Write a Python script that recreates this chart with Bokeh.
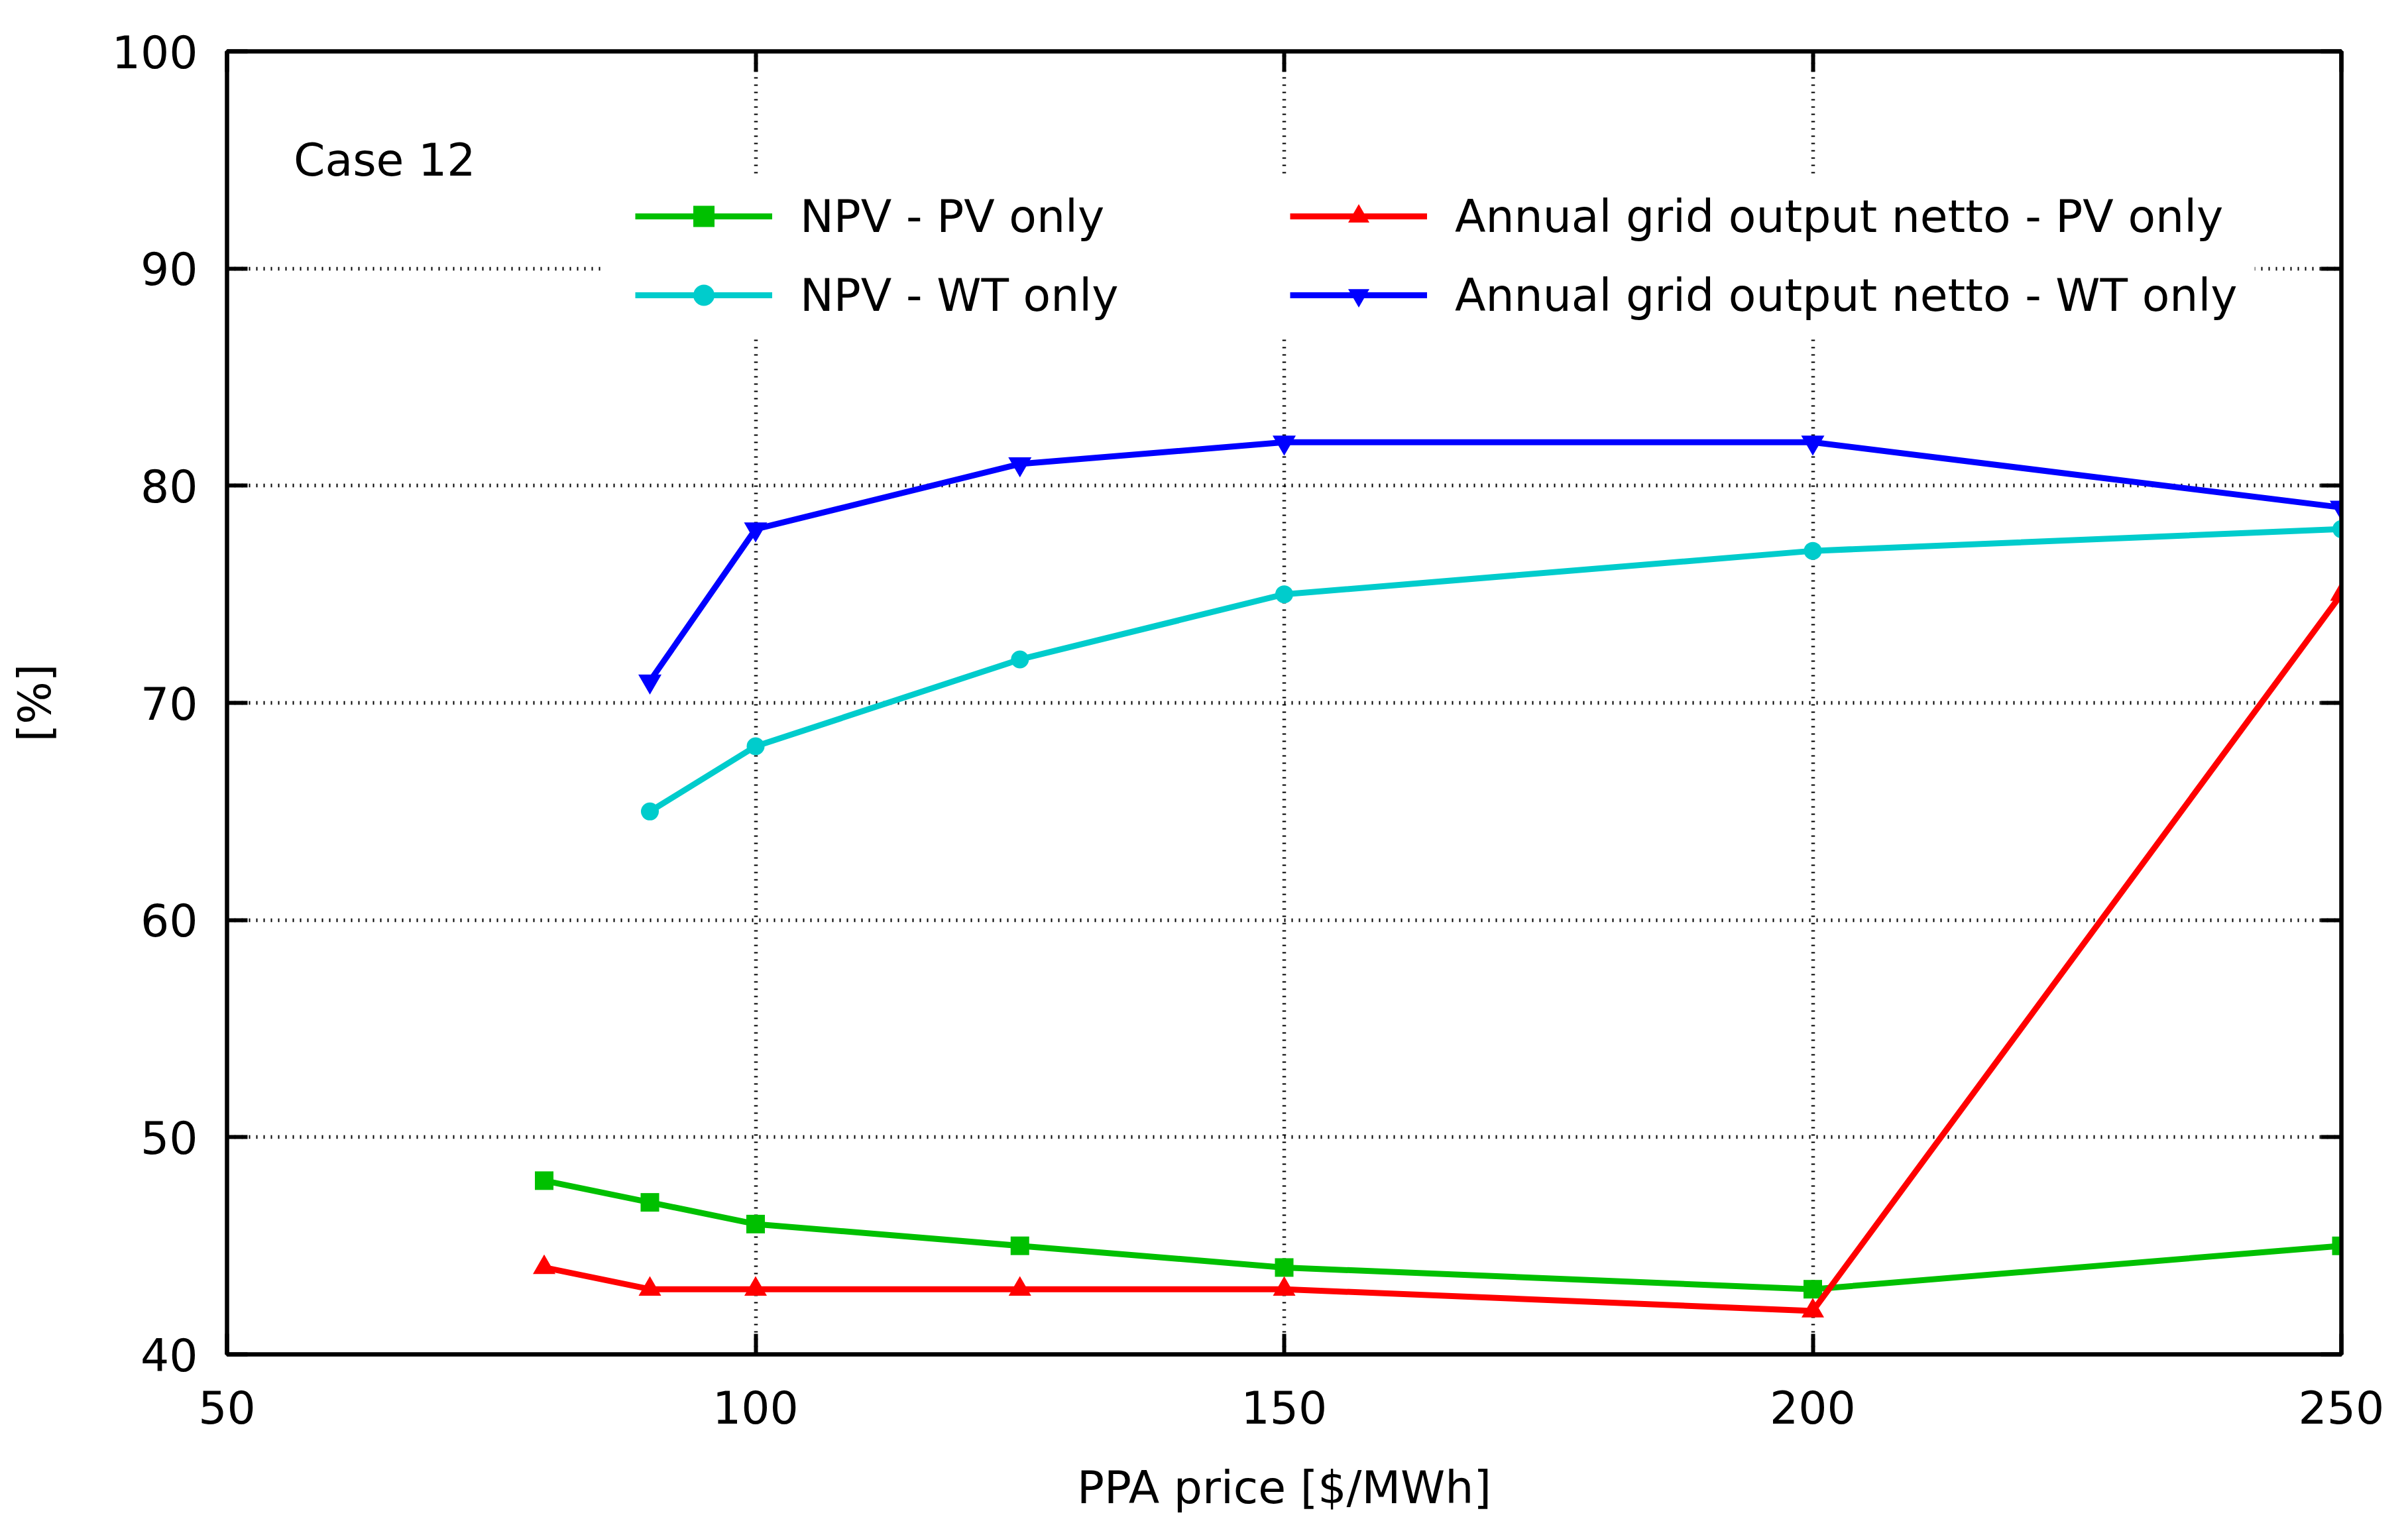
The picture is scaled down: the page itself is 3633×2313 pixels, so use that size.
from bokeh.embed import file_html
from bokeh.models import BoxAnnotation, FixedTicker, Label, Legend, LegendItem, LinearAxis
from bokeh.plotting import figure
from bokeh.resources import INLINE

# PPA price [$/MWh]
PPA_PV = [80, 90, 100, 125, 150, 200, 250]
PPA_WT = [90, 100, 125, 150, 200, 250]

# values in [%]
NPV_PV = [48, 47, 46, 45, 44, 43, 45]
NPV_WT = [65, 68, 72, 75, 77, 78]
GRID_PV = [44, 43, 43, 43, 43, 42, 75]
GRID_WT = [71, 78, 81, 82, 82, 79]

X_TICKS = [50, 100, 150, 200, 250]
Y_TICKS = [40, 50, 60, 70, 80, 90, 100]

FONT = "DejaVu Sans"
FS = "68px"
GREEN = "#00c000"
CYAN = "#00cccc"
RED = "#ff0000"
BLUE = "#0000ff"

p = figure(width=3617, height=2297, x_range=(50, 250), y_range=(40, 100),
           output_backend="svg", toolbar_location=None, tools="",
           min_border_left=342, min_border_right=85,
           min_border_top=77, min_border_bottom=254)
p.background_fill_color = "white"
p.border_fill_color = "white"
p.outline_line_color = "black"
p.outline_line_width = 6

bottom = p.below[0]
left = p.left[0]

# mirrored ticks on top and right, like gnuplot (labels not drawn)
top = LinearAxis()
right = LinearAxis()
p.add_layout(top, "above")
p.add_layout(right, "right")

bottom.ticker = FixedTicker(ticks=X_TICKS)
top.ticker = FixedTicker(ticks=X_TICKS)
left.ticker = FixedTicker(ticks=Y_TICKS)
right.ticker = FixedTicker(ticks=Y_TICKS)

for ax in (bottom, left, top, right):
    ax.axis_line_color = "black"
    ax.axis_line_width = 6
    ax.major_tick_line_color = "black"
    ax.major_tick_line_width = 6
    ax.major_tick_in = 31
    ax.major_tick_out = 0
    ax.minor_tick_line_color = None
    ax.major_label_text_font = FONT
    ax.major_label_text_font_size = FS
    ax.major_label_text_color = "black"
    ax.axis_label_text_font = FONT
    ax.axis_label_text_font_size = FS
    ax.axis_label_text_font_style = "normal"
    ax.axis_label_text_color = "black"

for ax in (top, right):
    ax.major_label_text_font_size = "1px"
    ax.major_label_text_color = None
    ax.major_label_standoff = 0

bottom.axis_label = "PPA price [$/MWh]"
bottom.major_label_standoff = 54
bottom.axis_label_standoff = 54

left.axis_label = "[%]"
left.major_label_standoff = 44
left.axis_label_standoff = 74

p.xgrid.ticker = FixedTicker(ticks=X_TICKS)
p.ygrid.ticker = FixedTicker(ticks=Y_TICKS)
for g in (p.xgrid, p.ygrid):
    g.grid_line_color = "black"
    g.grid_line_width = 5.5
    g.grid_line_dash = "2 9"

l1 = p.line(PPA_PV, NPV_PV, line_color=GREEN, line_width=9)
s1 = p.scatter(PPA_PV, NPV_PV, marker="square", size=28, fill_color=GREEN, line_color=None)
l2 = p.line(PPA_WT, NPV_WT, line_color=CYAN, line_width=9)
s2 = p.scatter(PPA_WT, NPV_WT, marker="circle", size=27, fill_color=CYAN, line_color=None)
l3 = p.line(PPA_PV, GRID_PV, line_color=RED, line_width=9)
s3 = p.scatter(PPA_PV, GRID_PV, marker="triangle", size=34, fill_color=RED, line_color=None)
l4 = p.line(PPA_WT, GRID_WT, line_color=BLUE, line_width=9)
s4 = p.scatter(PPA_WT, GRID_WT, marker="inverted_triangle", size=35, fill_color=BLUE, line_color=None)

# opaque key area
p.add_layout(BoxAnnotation(left=85.8, right=241.8, bottom=86.8, top=94.2,
                           fill_color="white", fill_alpha=1, line_color=None))


def make_legend(items, loc):
    leg = Legend(items=items, location=loc)
    leg.border_line_color = None
    leg.background_fill_alpha = 0
    leg.padding = 0
    leg.margin = 0
    leg.spacing = 39
    leg.glyph_width = 207
    leg.glyph_height = 80
    leg.label_height = 80
    leg.label_standoff = 42
    leg.label_text_font = FONT
    leg.label_text_font_size = FS
    leg.label_text_color = "black"
    return leg


p.add_layout(make_legend([LegendItem(label="NPV - PV only", renderers=[l1, s1]),
                          LegendItem(label="NPV - WT only", renderers=[l2, s2])],
                         (616, 1558)))
p.add_layout(make_legend([LegendItem(label="Annual grid output netto - PV only", renderers=[l3, s3]),
                          LegendItem(label="Annual grid output netto - WT only", renderers=[l4, s4])],
                         (1604, 1558)))

p.add_layout(Label(x=56.3, y=95.0, text="Case 12", text_font=FONT, text_font_size=FS,
                   text_baseline="middle", text_color="black"))

open("out.html", "w").write(file_html(p, INLINE))
